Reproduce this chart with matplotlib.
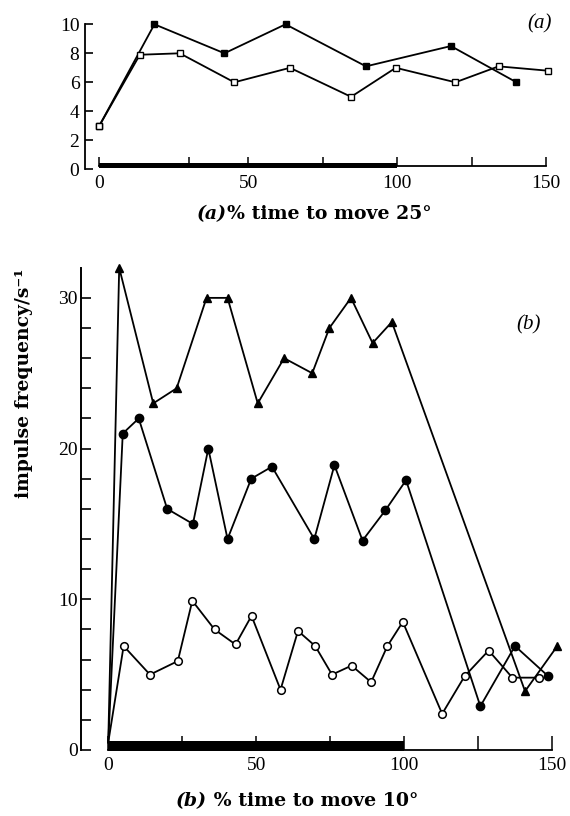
import matplotlib
matplotlib.use("Agg")
import matplotlib.pyplot as plt
from matplotlib.offsetbox import TextArea, HPacker, AnchoredOffsetbox

# panel (a): % time to move 25 deg
a_filled_x = [0, 18.5, 42, 62.5, 89.5, 118, 140]
a_filled_y = [3, 10, 8, 10, 7.1, 8.5, 6]
a_open_x = [0, 13.6, 27, 45.3, 64, 84.5, 99.5, 119.5, 134, 150.5]
a_open_y = [3, 7.9, 8, 6, 7, 5, 7, 6, 7.1, 6.8]

# panel (b): % time to move 10 deg
b_tri_x = [0, 3.7, 15.2, 23.1, 33.2, 40.3, 50.5, 59.4, 68.9, 74.7, 82, 89.3, 95.8, 140.8, 151.7]
b_tri_y = [0.5, 32, 23, 24, 30, 30, 23, 26, 25, 28, 30, 27, 28.4, 3.9, 6.9]
b_fill_x = [0, 4.9, 10.3, 19.9, 28.6, 33.8, 40.3, 48.3, 55.3, 69.6, 76.4, 85.9, 93.6, 100.6, 125.7, 137.4, 148.6]
b_fill_y = [0.5, 21, 22, 16, 15, 20, 14, 18, 18.8, 14, 18.9, 13.9, 15.9, 17.9, 2.9, 6.9, 4.9]
b_open_x = [0, 5.2, 14.1, 23.5, 28.4, 35.9, 43, 48.4, 58.2, 64.1, 69.9, 75.6, 82.2, 88.8, 94.3, 99.5,
            112.8, 120.4, 128.5, 136.5, 145.4]
b_open_y = [0.5, 6.9, 5, 5.9, 9.9, 8, 7, 8.9, 4, 7.9, 6.9, 5, 5.6, 4.5, 6.9, 8.5,
            2.4, 4.9, 6.6, 4.8, 4.8]

move_span = [0, 100]   # movement period (thick bar)

plt.rcParams["font.family"] = ["Liberation Serif", "DejaVu Serif"]
plt.rcParams["font.size"] = 14
bold_font = ["DejaVu Serif"]

fig = plt.figure(figsize=(5.7, 8.16), dpi=100)
ax1 = fig.add_axes([0.1491, 0.7925, 0.8354, 0.1955])
ax2 = fig.add_axes([0.1416, 0.0809, 0.8533, 0.6187])

lw = 1.3

# ---- panel (a)
ax1.plot(a_filled_x, a_filled_y, color="black", lw=lw, marker="s", ms=4.5,
         mfc="black", mec="black", clip_on=False)
ax1.plot(a_open_x, a_open_y, color="black", lw=lw, marker="s", ms=4.2,
         mfc="white", mec="black", mew=1.0, clip_on=False)
ax1.fill_between(move_span, 0.07, 0.41, color="black", lw=0, clip_on=False)
ax1.set_xlim(-4.8, 155)
ax1.set_ylim(0, 11)
for s in ["top", "right"]:
    ax1.spines[s].set_visible(False)
ax1.spines["left"].set_bounds(0, 10)
ax1.spines["bottom"].set_position(("data", 0.25))
ax1.spines["bottom"].set_bounds(0, 150)
ax1.spines["left"].set_linewidth(1.3)
ax1.spines["bottom"].set_linewidth(1.3)
ax1.set_yticks([0, 2, 4, 6, 8, 10])
ax1.set_xticks([0, 50, 100, 150])
ax1.set_xticks([30, 75, 125], minor=True)
ax1.tick_params(axis="y", direction="in", length=6, width=1.2, pad=4)
ax1.tick_params(axis="x", which="both", direction="in", length=6.5, width=1.1, pad=7)
ax1.text(0.955, 0.91, "(a)", transform=ax1.transAxes, fontsize=15, style="italic",
         ha="center", va="center")

# ---- panel (b)
ax2.plot(b_tri_x, b_tri_y, color="black", lw=lw, marker="^", ms=5.5,
         mfc="black", mec="black", markevery=slice(1, None), clip_on=False)
ax2.plot(b_fill_x, b_fill_y, color="black", lw=lw, marker="o", ms=6,
         mfc="black", mec="black", markevery=slice(1, None), clip_on=False)
ax2.plot(b_open_x, b_open_y, color="black", lw=lw, marker="o", ms=5.5,
         mfc="white", mec="black", mew=1.1, markevery=slice(1, None), clip_on=False)
ax2.fill_between(move_span, -0.1, 0.6, color="black", lw=0, clip_on=False)
ax2.set_xlim(-9.3, 155)
ax2.set_ylim(0, 33.5)
for s in ["top", "right"]:
    ax2.spines[s].set_visible(False)
ax2.spines["left"].set_bounds(0, 32)
ax2.spines["bottom"].set_bounds(0, 150)
ax2.spines["left"].set_linewidth(1.4)
ax2.spines["bottom"].set_linewidth(1.3)
ax2.set_yticks([0, 10, 20, 30])
ax2.set_yticks(range(0, 32, 2), minor=True)
ax2.set_xticks([0, 50, 100, 150])
ax2.set_xticks([25, 75, 125], minor=True)
ax2.tick_params(axis="y", which="both", direction="in", length=7, width=1.2, pad=2)
ax2.tick_params(axis="x", which="both", direction="in", length=10, width=1.1, pad=5)
ax2.text(0.92, 0.842, "(b)", transform=ax2.transAxes, fontsize=15, style="italic",
         ha="center", va="center")
ax2.set_ylabel("impulse frequency/s⁻¹", fontsize=13.5, fontweight="bold", family=bold_font)
ax2.yaxis.set_label_coords(-0.098, 0.727)

# x captions with italic panel letters
def caption(ax, letter, rest, x, y):
    parts = [TextArea(letter, textprops=dict(fontsize=13.6, fontweight="bold", style="italic",
                                             family=bold_font)),
             TextArea(rest, textprops=dict(fontsize=13.6, fontweight="bold", family=bold_font))]
    box = HPacker(children=parts, align="baseline", pad=0, sep=0)
    anc = AnchoredOffsetbox(loc="center", child=box, frameon=False,
                            bbox_to_anchor=(x, y), bbox_transform=fig.transFigure,
                            borderpad=0, pad=0)
    ax.add_artist(anc)

caption(ax1, "(a)", "% time to move 25°", 314 / 570, 1 - 214 / 816)
caption(ax2, "(b)", " % time to move 10°", 297 / 570, 1 - 801 / 816)

fig.savefig("out.png", dpi=100)
